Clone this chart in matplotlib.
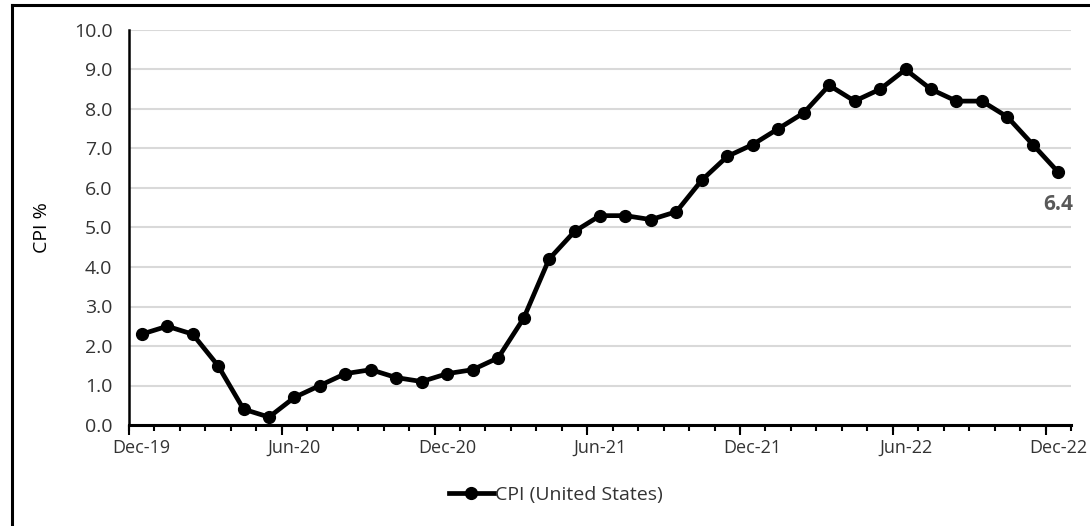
import numpy as np
import pandas as pd
import matplotlib
matplotlib.use("Agg")
import matplotlib.pyplot as plt
from matplotlib.lines import Line2D

plt.rcParams['font.family'] = ['Open Sans', 'DejaVu Sans']

months = pd.date_range('2019-12-01', periods=37, freq='MS')
cpi = [2.3, 2.5, 2.3, 1.5, 0.4, 0.2, 0.7, 1.0, 1.3, 1.4, 1.2, 1.1,
       1.3, 1.4, 1.7, 2.7, 4.2, 4.9, 5.3, 5.3, 5.2, 5.4, 6.2, 6.8,
       7.1, 7.5, 7.9, 8.6, 8.2, 8.5, 9.0, 8.5, 8.2, 8.2, 7.8, 7.1, 6.4]
series_name = 'CPI (United States)'
y_ticks = np.arange(0, 10.5, 1.0)

txt = '#333333'
x = np.arange(len(months))

fig = plt.figure(figsize=(10.9, 5.26), dpi=100)
ax = fig.add_axes([129/1090, 1-425/526, 942/1090, 395/526])

ax.plot(x, cpi, color='black', lw=3.4, marker='o', ms=8.5, label=series_name,
        solid_joinstyle='round', zorder=3)

ax.set_xlim(-0.5, len(months) - 0.5)
ax.set_ylim(0, 10)
ax.set_yticks(y_ticks)
ax.set_yticklabels([f'{v:.1f}' for v in y_ticks])
ax.grid(axis='y', color='#d9d9d9', lw=1.5)
ax.set_axisbelow(True)

# labels at every 6th month, no tick marks
lab_pos = x[::6]
ax.set_xticks(lab_pos)
ax.set_xticklabels([m.strftime('%b-%y') for m in months[::6]])
ax.tick_params(axis='x', which='major', length=0, pad=10, labelsize=13, labelcolor=txt)
# tick marks at every month boundary
ax.set_xticks(np.arange(-0.5, len(months)), minor=True)
ax.tick_params(axis='x', which='minor', length=4, width=1.5, color='black')
# longer marks every 6 months
sec = ax.secondary_xaxis('bottom')
sec.set_xticks(np.arange(-0.5, len(months), 6))
sec.set_xticklabels([])
sec.tick_params(length=7, width=1.5, color='black')
sec.spines['bottom'].set_visible(False)

ax.tick_params(axis='y', length=0, pad=12, labelsize=14, labelcolor=txt)

for s in ['top', 'right']:
    ax.spines[s].set_visible(False)
ax.spines['left'].set_linewidth(1.8)
ax.spines['bottom'].set_linewidth(2.2)

ax.set_ylabel('CPI %', fontsize=14, color='black')
ax.yaxis.set_label_coords(-0.092, 0.5)
ax.yaxis.label.set_verticalalignment('center')

ax.annotate(f'{cpi[-1]:.1f}', xy=(x[-1], cpi[-1]), xytext=(0, -23),
            textcoords='offset points', ha='center', va='center',
            fontsize=15, fontweight='bold', color='#595959')

fig.legend(loc='center', bbox_to_anchor=(556/1090, 1-495/526), frameon=False,
           fontsize=14, handlelength=2.3, handletextpad=0.1, labelcolor=txt)

# outer chart border (right/bottom edges fall outside the image)
fig.add_artist(Line2D([12/1090, 12/1090], [0, 1-5/526], color='black', lw=2.2))
fig.add_artist(Line2D([12/1090, 1], [1-5/526, 1-5/526], color='black', lw=2.2))

fig.savefig('out.png', dpi=100)
